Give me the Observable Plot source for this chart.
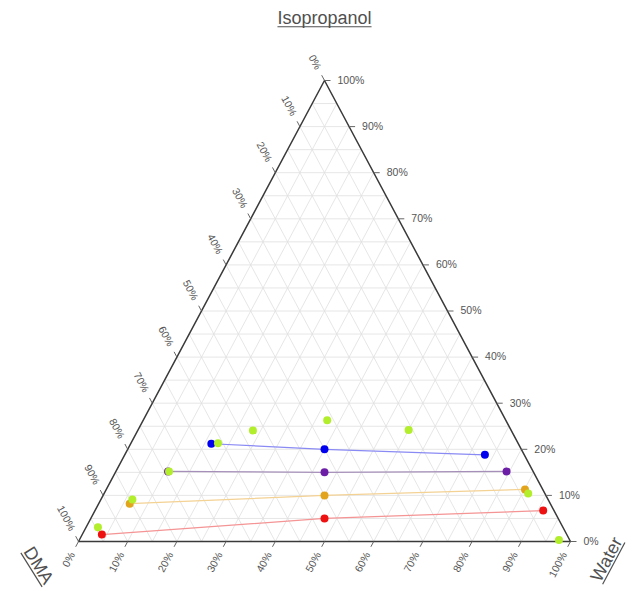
<!DOCTYPE html>
<html><head><meta charset="utf-8">
<script src="https://cdn.jsdelivr.net/npm/d3@7"></script>
<script src="https://cdn.jsdelivr.net/npm/@observablehq/plot@0.6"></script>
<style>html,body{margin:0;padding:0;background:#fff;} svg{display:block}</style>
</head><body><div id="chart"></div>
<script>
// ---- Data (percent) ----
const components = ["Isopropanol", "DMA", "Water"];
const tickPct = [0, 10, 20, 30, 40, 50, 60, 70, 80, 90, 100];
const gridPct = [5, 10, 15, 20, 25, 30, 35, 40, 45, 50, 55, 60, 65, 70, 75, 80, 85, 90, 95];

const tieNames = ["T1", "T2", "T3", "T4"];
const tieDotColors = ["#0000ee", "#6c1fa6", "#e2a41c", "#ee1111"];
const tieLineColors = ["#8a8af4", "#a690ba", "#f3d294", "#f59494"];
// feed (mixture) compositions
const feedIso = [20, 15, 10, 5];
const feedWater = [40, 42.5, 45, 47.5];
// DMA-rich phase
const dmaRichIso = [21.2, 15.2, 8.2, 1.5];
const dmaRichWater = [16.4, 10.6, 6.3, 4.0];
// Water-rich phase
const waterRichIso = [18.8, 15.2, 11.3, 6.7];
const waterRichWater = [73.2, 79.4, 85.1, 91.1];
// binodal points
const binodalIso = [0.3, 3.1, 9.1, 15.2, 21.3, 24.1, 26.3, 24.2, 10.4];
const binodalWater = [97.5, 2.4, 6.4, 10.8, 17.7, 23.4, 37.4, 55.0, 86.2];
const binodalColor = "#b2ee2c";

// ---- Layout ----
const W = 633, H = 591;
const mL = 78, mR = 63, mT = 80, mB = 50;
const kx = W - mL - mR, ky = H - mT - mB;   // pixels per unit
const edgeLen = Math.hypot(kx / 2, ky);
const ang = Math.atan2(ky, kx / 2) * 180 / Math.PI;

// ternary (iso, water as fractions) -> cartesian
const tx = (iso, water) => water + iso / 2;
const ty = (iso) => iso;

// ---- grid ----
const grid = [];
for (const p of gridPct) {
  const v = p / 100;
  grid.push({x1: tx(v, 0), y1: ty(v), x2: tx(v, 1 - v), y2: ty(v)});            // iso const
  grid.push({x1: tx(1 - v, 0), y1: ty(1 - v), x2: tx(0, 1 - v), y2: ty(0)});    // DMA const
  grid.push({x1: tx(0, v), y1: ty(0), x2: tx(1 - v, v), y2: ty(1 - v)});        // water const
}
const outline = [[0, 0], [1, 0], [0.5, 1], [0, 0]].map(([x, y]) => ({x, y}));

// ---- ticks & labels ----
const tickLen = 6, labOff = 13;
const ticks = [], rightLabs = [], leftLabs = [], bottomLabs = [];
for (const p of tickPct) {
  const v = p / 100;
  // Isopropanol on right edge
  let x0 = tx(v, 1 - v), y0 = ty(v);
  ticks.push({x1: x0, y1: y0, x2: x0 + tickLen / kx, y2: y0});
  rightLabs.push({x: x0 + labOff / kx, y: y0, t: p + "%"});
  // DMA on left edge (iso = 1 - dma, water = 0)
  x0 = tx(1 - v, 0); y0 = ty(1 - v);
  const ux = -0.5 / edgeLen, uy = 1 / edgeLen;
  ticks.push({x1: x0, y1: y0, x2: x0 + ux * tickLen, y2: y0 + uy * tickLen});
  leftLabs.push({x: x0 + ux * labOff, y: y0 + uy * labOff, t: p + "%"});
  // Water on bottom edge
  x0 = tx(0, v); y0 = 0;
  const bx = -0.5 / edgeLen, by = -1 / edgeLen;
  ticks.push({x1: x0, y1: y0, x2: x0 + bx * tickLen, y2: y0 + by * tickLen});
  bottomLabs.push({x: x0 + bx * labOff, y: y0 + by * labOff, t: p + "%"});
}

// ---- tie lines ----
const tieRows = [];
tieNames.forEach((n, i) => {
  const pts = [
    [dmaRichIso[i], dmaRichWater[i]],
    [feedIso[i], feedWater[i]],
    [waterRichIso[i], waterRichWater[i]]
  ];
  pts.forEach(([a, c]) => {
    tieRows.push({tie: n, x: tx(a / 100, c / 100), y: ty(a / 100), line: tieLineColors[i], dot: tieDotColors[i]});
  });
});
const binodal = binodalIso.map((a, i) => ({x: tx(a / 100, binodalWater[i] / 100), y: ty(a / 100)}));

// ---- titles (with underlines) ----
const font = "'Liberation Sans', Arial, sans-serif";
const titleSize = 18;
const titles = [
  {x: 0.5, y: 1 + 62 / ky, t: components[0], r: 0},
  {x: 0 - 40 / kx, y: 0 - 24 / ky, t: components[1], r: ang - 4},
  {x: 1 + 36 / kx, y: 0 - 18 / ky, t: components[2], r: -ang},
];
const ctx = document.createElement("canvas").getContext("2d");
ctx.font = `${titleSize}px ${font}`;
const underlines = titles.map(({x, y, t, r}) => {
  const w = ctx.measureText(t).width;
  const rad = r * Math.PI / 180, off = 0.32 * titleSize + 2.5;
  const rot = (px, py) => [px * Math.cos(rad) - py * Math.sin(rad), px * Math.sin(rad) + py * Math.cos(rad)];
  const [ax, ay] = rot(-w / 2, off), [bx, by] = rot(w / 2, off);
  return {x1: x + ax / kx, y1: y - ay / ky, x2: x + bx / kx, y2: y - by / ky};
});

const chart = Plot.plot({
  width: W, height: H,
  marginLeft: mL, marginRight: mR, marginTop: mT, marginBottom: mB,
  x: {domain: [0, 1], axis: null},
  y: {domain: [0, 1], axis: null},
  color: {type: "identity"},
  style: {fontFamily: font, background: "#fff", overflow: "visible"},
  marks: [
    Plot.link(grid, {x1: "x1", y1: "y1", x2: "x2", y2: "y2", stroke: "#e0e0e0", strokeWidth: 0.8}),
    Plot.line(outline, {x: "x", y: "y", stroke: "#3a3a3a", strokeWidth: 1.5}),
    Plot.link(ticks, {x1: "x1", y1: "y1", x2: "x2", y2: "y2", stroke: "#666", strokeWidth: 1}),
    Plot.text(rightLabs, {x: "x", y: "y", text: "t", textAnchor: "start", fontSize: 10.5, fill: "#555"}),
    Plot.text(leftLabs, {x: "x", y: "y", text: "t", textAnchor: "end", rotate: ang, fontSize: 10.5, fill: "#555"}),
    Plot.text(bottomLabs, {x: "x", y: "y", text: "t", textAnchor: "end", rotate: -ang, fontSize: 10.5, fill: "#555"}),
    Plot.line(tieRows, {x: "x", y: "y", z: "tie", stroke: "line", strokeWidth: 1.2}),
    Plot.dot(tieRows, {x: "x", y: "y", fill: "dot", r: 4}),
    Plot.dot(binodal, {x: "x", y: "y", fill: binodalColor, r: 4}),
    Plot.text(titles, {x: "x", y: "y", text: "t", rotate: "r", fontSize: titleSize, fill: "#505050"}),
    Plot.link(underlines, {x1: "x1", y1: "y1", x2: "x2", y2: "y2", stroke: "#505050", strokeWidth: 1.2})
  ]
});
document.getElementById("chart").appendChild(chart);
</script>
</body></html>
